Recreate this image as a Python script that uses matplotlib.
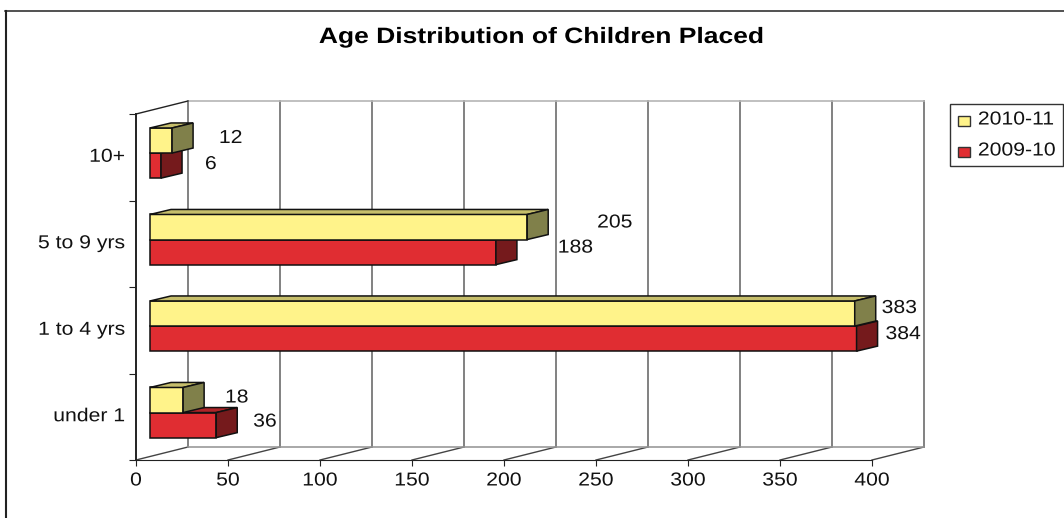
import matplotlib
matplotlib.use("Agg")
import matplotlib.pyplot as plt
from matplotlib.patches import Polygon, Rectangle
from matplotlib.patheffects import AbstractPathEffect
from matplotlib.transforms import Affine2D

plt.rcParams['font.family'] = ['Liberation Sans', 'DejaVu Sans']

categories = ['under 1', '1 to 4 yrs', '5 to 9 yrs', '10+']
values_2010 = [18, 383, 205, 12]
values_2009 = [36, 384, 188, 6]
xticks = [0, 50, 100, 150, 200, 250, 300, 350, 400]

W, H = 1064, 518
YELLOW = ('#fff38a', '#c6be6b', '#80804a')   # front, top, side
RED = ('#e02d32', '#ae2428', '#751a1c')
WALL = '#777777'
INK = '#111111'
FS = 13.5
WIDEN = 1.13


class WideText(AbstractPathEffect):
    # widens the glyphs of a text around its alignment point
    def __init__(self, sx, align='left'):
        super().__init__()
        self.sx = sx
        self.align = align

    def draw_path(self, renderer, gc, tpath, affine, rgbFace=None):
        x0, x1 = tpath.get_extents().intervalx
        anchor = {'left': x0, 'center': (x0 + x1) / 2, 'right': x1}[self.align]
        t = Affine2D().translate(-anchor, 0).scale(self.sx, 1).translate(anchor, 0)
        renderer.draw_path(gc, tpath, t + affine, rgbFace)


# axes box is the front plane of the chart
left, right, top, bottom = 136, 872, 114, 460
px_x = (right - left) / 400.0
px_y = (bottom - top) / 4.0

fig = plt.figure(figsize=(W / 100, H / 100), dpi=100)
ax = fig.add_axes([left / W, 1 - bottom / H, (right - left) / W, (bottom - top) / H])
ax.set_xlim(0, 400)
ax.set_ylim(0, 4)
ax.patch.set_visible(False)


def dx(p):
    return p / px_x


def dy(p):
    return p / px_y


# back wall and floor
wall_dx, wall_dy = dx(52), dy(13)
for v in xticks:
    ax.plot([v + wall_dx, v + wall_dx], [wall_dy, 4 + wall_dy], color=WALL, lw=1.3, clip_on=False, zorder=1)
    ax.plot([v, v + wall_dx], [0, wall_dy], color='#444444', lw=1, clip_on=False, zorder=1)
ax.plot([wall_dx, 400 + wall_dx], [wall_dy, wall_dy], color='#999999', lw=1.2, clip_on=False, zorder=1)
ax.plot([wall_dx, 400 + wall_dx], [4 + wall_dy, 4 + wall_dy], color='#b5b5b5', lw=1.2, clip_on=False, zorder=1)
ax.plot([0, wall_dx], [4, 4 + wall_dy], color='#222222', lw=1, clip_on=False, zorder=1)


def bar3d(y, v, h, colors):
    x0 = dx(14)
    x1 = x0 + v
    d_x, d_y = dx(21), dy(5)
    ax.barh(y, v, height=h, left=x0, align='edge', color=colors[0], edgecolor='#111111', lw=1.1, zorder=3)
    ax.add_patch(Polygon([(x0, y + h), (x1, y + h), (x1 + d_x, y + h + d_y), (x0 + d_x, y + h + d_y)],
                         facecolor=colors[1], edgecolor='#111111', lw=1.1, zorder=3, clip_on=False))
    ax.add_patch(Polygon([(x1, y), (x1 + d_x, y + d_y), (x1 + d_x, y + h + d_y), (x1, y + h)],
                         facecolor=colors[2], edgecolor='#111111', lw=1.1, zorder=3, clip_on=False))


bar_h = 0.29
lift = dy(4.2)
# lower bars first so the yellow ones sit on top of them
for i in range(4):
    mid = i + 0.5 + lift
    bar3d(mid - bar_h, values_2009[i], bar_h, RED)
    bar3d(mid, values_2010[i], bar_h, YELLOW)

# value labels sit at varying distances from the bar ends
label_gap_2010 = [(42, 2), (27, 5), (70, 4), (47, 2)]
label_gap_2009 = [(37, 3), (29, 4), (62, 4), (44, 1)]
for i in range(4):
    mid = i + 0.5 + lift
    ax.annotate(str(values_2010[i]), (dx(14) + values_2010[i], mid + bar_h / 2), xytext=label_gap_2010[i],
                textcoords='offset pixels', fontsize=FS, va='center', ha='left', color=INK, zorder=5,
                path_effects=[WideText(WIDEN)])
    ax.annotate(str(values_2009[i]), (dx(14) + values_2009[i], mid - bar_h / 2), xytext=label_gap_2009[i],
                textcoords='offset pixels', fontsize=FS, va='center', ha='left', color=INK, zorder=5,
                path_effects=[WideText(WIDEN)])

ax.spines['top'].set_visible(False)
ax.spines['right'].set_visible(False)
ax.spines['left'].set_color('#222222')
ax.spines['left'].set_linewidth(1.4)
ax.spines['bottom'].set_color('#222222')
ax.set_xticks(xticks)
ax.set_yticks(range(5))
ax.set_yticks([i + 0.5 + dy(2) for i in range(4)], minor=True)
ax.set_yticklabels([])
ax.set_yticklabels(categories, minor=True, fontsize=FS, color=INK)
ax.tick_params(axis='y', which='minor', length=0, pad=8)
ax.tick_params(axis='y', which='major', length=5, color='#222222')
ax.tick_params(axis='x', length=4, color='#222222', labelsize=FS, labelcolor=INK, pad=5)
for lab in ax.get_yticklabels(minor=True):
    lab.set_path_effects([WideText(WIDEN, 'right')])
for lab in ax.get_xticklabels():
    lab.set_path_effects([WideText(WIDEN, 'center')])

fig.text(541 / W, 1 - 37.5 / H, 'Age Distribution of Children Placed', ha='center', va='center',
         fontsize=16, fontweight='bold', color='black', path_effects=[WideText(1.19, 'center')])

# outer frame: only the top and left edges fall inside the canvas
fig.add_artist(plt.Line2D([6 / W, 6 / W], [0, 1 - 10.5 / H], color='#222222', lw=1.5))
fig.add_artist(plt.Line2D([5 / W, 1], [1 - 10.5 / H, 1 - 10.5 / H], color='#222222', lw=1.1))

# legend box
fig.add_artist(Rectangle((950 / W, 1 - 166 / H), 113 / W, 62 / H, transform=fig.transFigure,
                         facecolor='white', edgecolor='#333333', lw=1))
legend_names = ['2010-11', '2009-10']
legend_colors = [YELLOW[0], RED[0]]
for name, col, y, py in zip(legend_names, legend_colors, [120, 151], [121, 152]):
    fig.add_artist(Rectangle((958 / W, 1 - (py + 5) / H), 12 / W, 10 / H, transform=fig.transFigure,
                             facecolor=col, edgecolor='#333333', lw=1))
    fig.text(978 / W, 1 - y / H, name, ha='left', va='center', fontsize=FS, color=INK,
             path_effects=[WideText(WIDEN)])

fig.savefig('out.png', dpi=100)
